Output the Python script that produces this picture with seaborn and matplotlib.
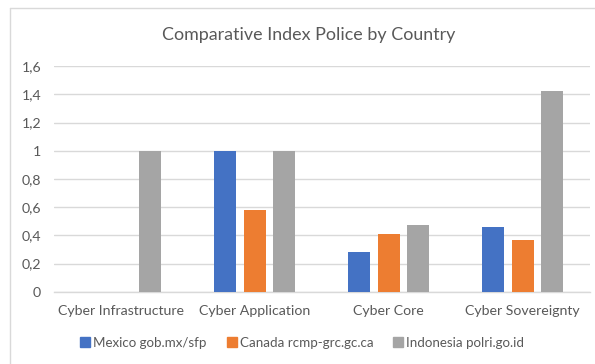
import matplotlib
matplotlib.use("Agg")
import matplotlib.pyplot as plt
from matplotlib.lines import Line2D
from matplotlib.ticker import FixedLocator, FuncFormatter
import pandas as pd
import seaborn as sns

# Index values per dimension and country
categories = ["Cyber Infrastructure", "Cyber Application", "Cyber Core", "Cyber Sovereignty"]
series_names = ["Mexico gob.mx/sfp", "Canada rcmp-grc.gc.ca", "Indonesia polri.go.id"]
mexico = [0.0, 1.0, 0.28, 0.46]
canada = [0.0, 0.58, 0.41, 0.37]
indonesia = [1.0, 1.0, 0.47, 1.42]
y_ticks = [0, 0.2, 0.4, 0.6, 0.8, 1.0, 1.2, 1.4, 1.6]

colors = ["#4472C4", "#ED7D31", "#A5A5A5"]
text_color = "#595959"
grid_color = "#D9D9D9"

rows = []
for name, vals in zip(series_names, [mexico, canada, indonesia]):
    for cat, v in zip(categories, vals):
        rows.append({"Dimension": cat, "Country": name, "Index": v})
df = pd.DataFrame(rows)

sns.set_theme(style="white")
plt.rcParams["font.family"] = ["Lato", "DejaVu Sans"]

W, H = 595, 364
fig = plt.figure(figsize=(W / 100, H / 100), dpi=100)
ax = fig.add_axes([53.6 / W, 1 - 291.7 / H, (589.6 - 53.6) / W, (291.7 - 66.1) / H])

sns.barplot(data=df, x="Dimension", y="Index", hue="Country",
            order=categories, hue_order=series_names, palette=colors,
            width=0.656, gap=0.25, linewidth=0, saturation=1,
            errorbar=None, legend=False, ax=ax, zorder=3)

ax.set_ylim(0, 1.6)
ax.set_xlim(-0.5, len(categories) - 0.5)
ax.yaxis.set_major_locator(FixedLocator(y_ticks))
ax.yaxis.set_major_formatter(FuncFormatter(lambda v, p: f"{v:g}".replace(".", ",")))
ax.grid(axis="y", color=grid_color, linewidth=1.0, zorder=0)
ax.set_axisbelow(True)
for side in ["top", "right", "left"]:
    ax.spines[side].set_visible(False)
ax.spines["bottom"].set_color(grid_color)
ax.spines["bottom"].set_linewidth(1.0)
ax.set_xlabel("")
ax.set_ylabel("")
ax.tick_params(axis="y", length=0, pad=9, labelsize=10.2, labelcolor=text_color)
ax.tick_params(axis="x", length=0, pad=9.5, labelsize=10.2, labelcolor=text_color)

fig.text(309 / W, 1 - 35 / H, "Comparative Index Police by Country",
         ha="center", va="center", fontsize=12.9, color=text_color)

handles = [Line2D([0], [0], marker="s", linestyle="", markersize=6.5,
                  markerfacecolor=c, markeredgecolor=c) for c in colors]
fig.legend(handles, series_names, loc="center", bbox_to_anchor=(302 / W, 1 - 343 / H),
           ncol=3, frameon=False, fontsize=9.6, labelcolor=text_color,
           handletextpad=0.2, columnspacing=1.5, handlelength=0.8)

# Chart-area frame
fig.add_artist(Line2D([10 / W, 10 / W], [0, 1 - 8 / H], color="#D9D9D9",
                      linewidth=1.0, transform=fig.transFigure))
fig.add_artist(Line2D([10 / W, 1], [1 - 8 / H, 1 - 8 / H], color="#D9D9D9",
                      linewidth=1.0, transform=fig.transFigure))

fig.savefig("out.png", dpi=100, facecolor="white")
